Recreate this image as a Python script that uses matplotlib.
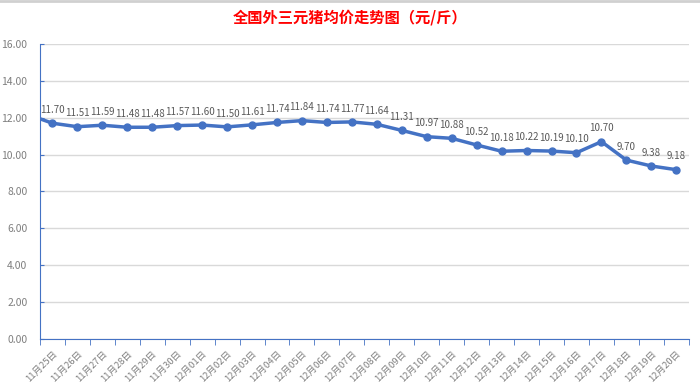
import matplotlib
matplotlib.use("Agg")
import matplotlib.pyplot as plt
import numpy as np

plt.rcParams['font.family'] = ['Noto Sans CJK SC', 'DejaVu Sans']

dates = ["11月25日", "11月26日", "11月27日", "11月28日", "11月29日", "11月30日",
         "12月01日", "12月02日", "12月03日", "12月04日", "12月05日", "12月06日",
         "12月07日", "12月08日", "12月09日", "12月10日", "12月11日", "12月12日",
         "12月13日", "12月14日", "12月15日", "12月16日", "12月17日", "12月18日",
         "12月19日", "12月20日"]
prices = [11.70, 11.51, 11.59, 11.48, 11.48, 11.57, 11.60, 11.50, 11.61, 11.74,
          11.84, 11.74, 11.77, 11.64, 11.31, 10.97, 10.88, 10.52, 10.18, 10.22,
          10.19, 10.10, 10.70, 9.70, 9.38, 9.18]
# the day before 11月25日, only its segment shows at the left edge
prev_price = 12.18

blue = '#4472C4'
gray = '#595959'

fig = plt.figure(figsize=(7, 3.88), dpi=100)
ax = fig.add_axes([0.057, 0.126, 0.927, 0.761])

x = np.arange(len(prices))
ax.plot(np.r_[-1, x], np.r_[prev_price, prices], color=blue, linewidth=2.5,
        marker='o', markersize=5, zorder=3)

for xi, v in zip(x, prices):
    ax.annotate(f"{v:.2f}", (xi, v), xytext=(0, 6), textcoords='offset points',
                ha='center', va='bottom', fontsize=7, color=gray)

ax.set_xlim(-0.5, len(prices) - 0.5)
ax.set_ylim(0, 16)
ax.set_yticks(np.arange(0, 16.1, 2))
ax.set_yticklabels([f"{v:.2f}" for v in np.arange(0, 16.1, 2)])
ax.set_xticks(x)
ax.set_xticklabels(dates, rotation=45, ha='right', rotation_mode='anchor')
ax.set_xticks(np.arange(-0.5, len(prices), 1), minor=True)

ax.tick_params(axis='x', which='major', length=0, labelsize=6.8, colors='#7F7F7F', pad=7)
ax.tick_params(axis='x', which='minor', length=4, color=blue, direction='out')
ax.tick_params(axis='y', length=3, color=blue, direction='in', labelsize=7.5,
               labelcolor='#7F7F7F', pad=9)

ax.grid(axis='y', color='#D9D9D9', linewidth=1)
ax.set_axisbelow(True)
for s in ['top', 'right']:
    ax.spines[s].set_visible(False)
ax.spines['left'].set_color(blue)
ax.spines['bottom'].set_color(blue)

fig.text(0.5, 0.955, "全国外三元猪均价走势图（元/斤）", ha='center', va='center',
         fontsize=11, color='#FF0000', fontweight='bold')
fig.add_artist(plt.Line2D([0, 1], [0.998, 0.998], color='#D0D0D0', linewidth=2,
                          transform=fig.transFigure))

fig.savefig("out.png", dpi=100)
